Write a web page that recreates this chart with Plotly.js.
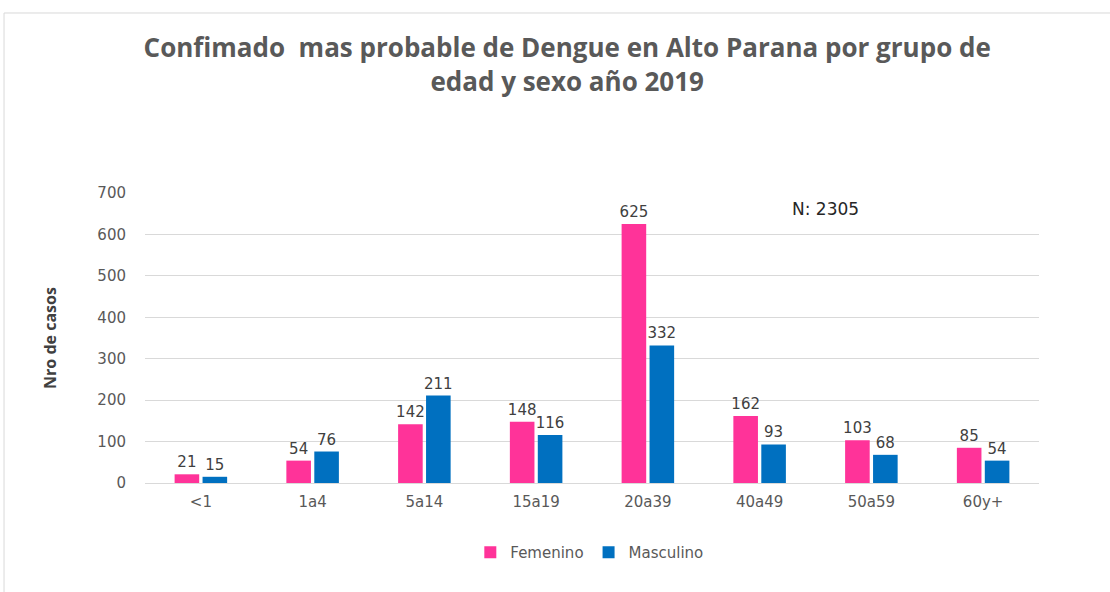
<!DOCTYPE html>
<html>
<head>
<meta charset="utf-8">
<script src="https://cdn.plot.ly/plotly-3.0.1.min.js"></script>
<style>html,body{margin:0;padding:0;background:#fff;}#chart{width:1110px;height:592px;}</style>
</head>
<body>
<div id="chart"></div>
<script>
const categories = ["<1", "1a4", "5a14", "15a19", "20a39", "40a49", "50a59", "60y+"];
const femenino = [21, 54, 142, 148, 625, 162, 103, 85];
const masculino = [15, 76, 211, 116, 332, 93, 68, 54];
const yTicks = [0, 100, 200, 300, 400, 500, 600, 700];
const titleText = "Confimado  mas probable de Dengue en Alto Parana por grupo de<br>edad y sexo año 2019";
const nLabel = "N: 2305";

const labelFont = {family: "DejaVu Sans", size: 15, color: "#404040"};

const traces = [
  {
    type: "bar", name: "Femenino", x: categories, y: femenino,
    text: femenino.map(String), textposition: "outside", cliponaxis: false, constraintext: "none",
    textfont: labelFont, marker: {color: "#FF3399"}, hoverinfo: "x+y"
  },
  {
    type: "bar", name: "Masculino", x: categories, y: masculino,
    text: masculino.map(String), textposition: "outside", cliponaxis: false, constraintext: "none",
    textfont: labelFont, marker: {color: "#0070C0"}, hoverinfo: "x+y"
  }
];

const layout = {
  width: 1110, height: 592,
  paper_bgcolor: "#ffffff", plot_bgcolor: "#ffffff",
  margin: {l: 145, r: 71, t: 193, b: 109},
  title: {
    text: titleText, x: 0.511, xanchor: "center", y: 0.903, yanchor: "middle",
    font: {family: "Open Sans", size: 26, color: "#595959", weight: "bold"}
  },
  barmode: "group", bargap: 0.5, bargroupgap: 0.12,
  xaxis: {
    type: "category", showgrid: false, showline: false, zeroline: false,
    ticks: "", tickfont: {family: "DejaVu Sans", size: 15, color: "#595959"},
    ticklabelstandoff: 8
  },
  yaxis: {
    range: [0, 700], tickvals: yTicks, ticktext: yTicks.map(String),
    showgrid: true, gridcolor: "#D9D9D9", gridwidth: 1,
    zeroline: true, zerolinecolor: "#D9D9D9", zerolinewidth: 1,
    showline: false, ticks: "",
    tickfont: {family: "DejaVu Sans", size: 15, color: "#595959"},
    ticklabelstandoff: 18,
    title: {text: "Nro de casos", standoff: 36, font: {family: "Open Sans", size: 16, color: "#404040", weight: "bold"}}
  },
  showlegend: true,
  legend: {
    orientation: "h", x: 0.497, xanchor: "center", y: -0.24, yanchor: "middle",
    font: {family: "DejaVu Sans", size: 15, color: "#595959"},
    itemwidth: 30, traceorder: "normal"
  },
  annotations: [
    {text: nLabel, xref: "paper", yref: "paper", x: 0.761, y: 0.945, showarrow: false,
     xanchor: "center", yanchor: "middle",
     font: {family: "DejaVu Sans", size: 17, color: "#262626"}}
  ],
  shapes: [
    {type: "rect", xref: "paper", yref: "paper", x0: -0.1577, x1: 1.3, y0: -0.6, y1: 1.6207,
     line: {color: "#D9D9D9", width: 1}, fillcolor: "rgba(0,0,0,0)", layer: "below"}
  ]
};

Plotly.newPlot("chart", traces, layout, {displayModeBar: false, staticPlot: true});
</script>
</body>
</html>
